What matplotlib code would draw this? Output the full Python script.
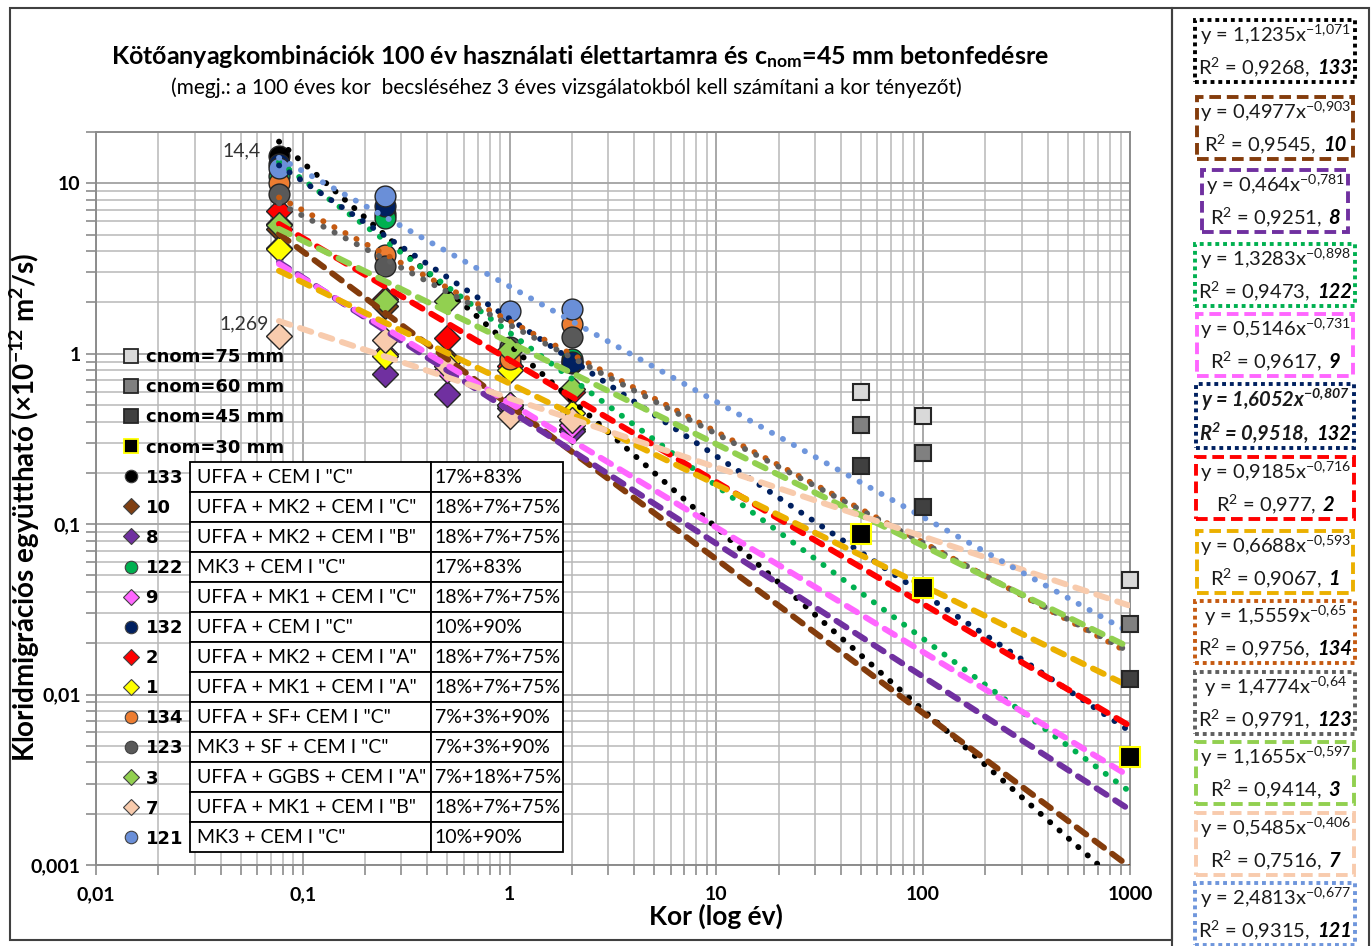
import numpy as np
import matplotlib.pyplot as plt
from matplotlib.lines import Line2D
from matplotlib.patches import Rectangle
from matplotlib.offsetbox import TextArea, VPacker, HPacker, AnnotationBbox

NARROW = ['Lato', 'DejaVu Sans']
plt.rcParams['font.family'] = NARROW
plt.rcParams['mathtext.default'] = 'regular'

nan = np.nan
# vizsgálati korok (év): 28 nap, 91 nap, 182 nap, 1 év, 2 év
age = [0.0767, 0.25, 0.5, 1, 2]

# kör jelölők
y133 = [14.4, 6.6, nan, 0.82, 0.88]
y122 = [11.0, 6.3, nan, 0.87, 0.93]
y132 = [13.0, 7.4, nan, 0.85, 0.90]
y134 = [10.0, 3.8, nan, 0.93, 1.5]
y123 = [8.7, 3.25, nan, 1.1, 1.26]
y121 = [12.3, 8.4, nan, 1.77, 1.84]
# rombusz jelölők
y10 = [5.4, 1.9, 0.93, 0.50, 0.36]
y8 = [5.8, 0.76, 0.58, 0.48, 0.35]
y9 = [4.2, 1.0, 0.80, 0.50, 0.38]
y2 = [6.9, 2.1, 1.24, 0.85, 0.60]
y1 = [4.1, 0.97, 0.90, 0.80, 0.45]
y3 = [5.7, 2.05, 2.05, 1.05, 0.62]
y7 = [1.269, 1.21, 0.85, 0.43, 0.41]

# cnom pontok
cnom_age = [50, 100, 1000]
cnom75 = [0.60, 0.43, 0.047]
cnom60 = [0.38, 0.26, 0.026]
cnom45 = [0.22, 0.126, 0.0123]
cnom30 = [0.088, 0.042, 0.0043]

ids = ['133', '10', '8', '122', '9', '132', '2', '1', '134', '123', '3', '7', '121']
values = [y133, y10, y8, y122, y9, y132, y2, y1, y134, y123, y3, y7, y121]
markers = ['o', 'D', 'D', 'o', 'D', 'o', 'D', 'D', 'o', 'o', 'D', 'D', 'o']
mcolors = ['#000000', '#7F3F12', '#7030A0', '#00B050', '#FF66FF', '#002060', '#FF0000',
           '#FFFF00', '#ED7D31', '#595959', '#92D050', '#F8CBAD', '#6A8FD8']
lcolors = ['#000000', '#843C0C', '#7030A0', '#00B050', '#FF66FF', '#002060', '#FF0000',
           '#EBB000', '#C55A11', '#5F5F5F', '#92D050', '#F8CBAD', '#6F96DC']
coef_a = [1.1235, 0.4977, 0.464, 1.3283, 0.5146, 1.6052, 0.9185, 0.6688, 1.5559, 1.4774, 1.1655, 0.5485, 2.4813]
coef_b = [-1.071, -0.903, -0.781, -0.898, -0.731, -0.807, -0.716, -0.593, -0.65, -0.64, -0.597, -0.406, -0.677]
r2 = [0.9268, 0.9545, 0.9251, 0.9473, 0.9617, 0.9518, 0.977, 0.9067, 0.9756, 0.9791, 0.9414, 0.7516, 0.9315]

mix = ['UFFA + CEM I "C"', 'UFFA + MK2 + CEM I "C"', 'UFFA + MK2 + CEM I "B"', 'MK3 + CEM I "C"',
       'UFFA + MK1 + CEM I "C"', 'UFFA + CEM I "C"', 'UFFA + MK2 + CEM I "A"', 'UFFA + MK1 + CEM I "A"',
       'UFFA + SF+ CEM I "C"', 'MK3 + SF + CEM I "C"', 'UFFA + GGBS + CEM I "A"', 'UFFA + MK1 + CEM I "B"',
       'MK3 + CEM I "C"']
ratio = ['17%+83%', '18%+7%+75%', '18%+7%+75%', '17%+83%', '18%+7%+75%', '10%+90%', '18%+7%+75%',
         '18%+7%+75%', '7%+3%+90%', '7%+3%+90%', '7%+18%+75%', '18%+7%+75%', '10%+90%']

W, H = 1371, 946
fig = plt.figure(figsize=(W / 100, H / 100), dpi=100)
ax = fig.add_axes([96 / W, 1 - 865 / H, (1130 - 96) / W, (865 - 132) / H])
ax.set_xscale('log')
ax.set_yscale('log')
ax.set_xlim(0.01, 1000)
ax.set_ylim(0.001, 20)

ax.grid(True, which='major', color='#A8A8A8', lw=1.4, zorder=0)
ax.grid(True, which='minor', color='#B8B8B8', lw=1.1, zorder=0)
ax.set_axisbelow(True)
for s in ax.spines.values():
    s.set_color('#8C8C8C')
    s.set_linewidth(1.4)

xt = [0.01, 0.1, 1, 10, 100, 1000]
ax.set_xticks(xt, ['0,01', '0,1', '1', '10', '100', '1000'])
yt = [0.001, 0.01, 0.1, 1, 10]
ax.set_yticks(yt, ['0,001', '0,01', '0,1', '1', '10'])
ax.tick_params(which='both', direction='out', color='#8C8C8C', length=7, width=1.2, labelsize=14)
ax.tick_params(axis='x', pad=8)
ax.tick_params(axis='y', pad=4)
for lab in ax.get_xticklabels() + ax.get_yticklabels():
    lab.set_fontweight('bold')

# trendvonalak
xfit = np.logspace(np.log10(age[0]), 3, 400)
for i in range(len(ids)):
    yfit = coef_a[i] * xfit ** coef_b[i]
    if markers[i] == 'o':
        ax.plot(xfit, yfit, color=lcolors[i], lw=4.2, ls=(0, (0.05, 2.1)),
                dash_capstyle='round', zorder=5)
    else:
        ax.plot(xfit, yfit, color=lcolors[i], lw=4.3, ls=(0, (2.0, 1.7)),
                dash_capstyle='round', zorder=5)

# mért pontok
for i in range(len(ids)):
    ms = 15 if markers[i] == 'o' else 13.5
    ax.plot(age, values[i], ls='none', marker=markers[i], ms=ms, mfc=mcolors[i],
            mec='#262626', mew=1.0, zorder=4)

ax.plot(cnom_age, cnom75, ls='none', marker='s', ms=11, mfc='#D9D9D9', mec='#262626', mew=1.5, zorder=6, clip_on=False)
ax.plot(cnom_age, cnom60, ls='none', marker='s', ms=11, mfc='#808080', mec='#262626', mew=1.5, zorder=6, clip_on=False)
ax.plot(cnom_age, cnom45, ls='none', marker='s', ms=11, mfc='#404040', mec='#262626', mew=1.5, zorder=6, clip_on=False)
ax.plot(cnom_age, cnom30, ls='none', marker='s', ms=14.5, mfc='#000000', mec='#FFFF00', mew=1.5, zorder=6, clip_on=False)

ax.annotate('14,4', xy=(age[0], y133[0]), xytext=(-13, 4), textcoords='offset points',
            ha='right', va='center', fontsize=14, color='#333333', zorder=7)
ax.annotate('1,269', xy=(age[0], y7[0]), xytext=(-7, 9), textcoords='offset points',
            ha='right', va='center', fontsize=14, color='#333333', zorder=7)

# jelmagyarázat
handles = [Line2D([], [], ls='none', marker='s', ms=10, mfc=c, mec=e, mew=1.3)
           for c, e in [('#D9D9D9', '#262626'), ('#808080', '#262626'),
                        ('#404040', '#262626'), ('#000000', '#FFFF00')]]
labels = ['cnom=75 mm', 'cnom=60 mm', 'cnom=45 mm', 'cnom=30 mm']
for i in range(len(ids)):
    handles.append(Line2D([], [], ls='none', marker=markers[i], ms=9 if markers[i] == 'o' else 8,
                          mfc=mcolors[i], mec='#404040', mew=0.8))
    labels.append(ids[i])
leg = ax.legend(handles, labels, loc='upper left', bbox_to_anchor=(0.027, 0.705), frameon=False,
                borderaxespad=0, borderpad=0, handlelength=0.8, handletextpad=0.4,
                labelspacing=0.67, prop={'family': 'DejaVu Sans', 'weight': 'bold', 'size': 13})
leg.set_zorder(8)

# táblázat
tbl = ax.table(cellText=[[m, r] for m, r in zip(mix, ratio)], cellLoc='left',
               colWidths=[241, 132], bbox=[(190 - 96) / 1034, (865 - 852) / 733,
                                           (563 - 190) / 1034, (852 - 462) / 733])
tbl.auto_set_font_size(False)
tbl.set_zorder(9)
for cell in tbl.get_celld().values():
    cell.PAD = 0.03
    cell.set_edgecolor('#000000')
    cell.set_linewidth(1.3)
    cell.set_facecolor('white')
    cell.get_text().set_fontsize(14)
    cell.get_text().set_fontfamily(NARROW)

# cím
fig.text(580 / W, 1 - 57 / H, r'Kötőanyagkombinációk 100 év használati élettartamra és c$_{nom}$=45 mm betonfedésre',
         ha='center', va='center', fontsize=18, fontweight='bold')
fig.text(566 / W, 1 - 88 / H, '(megj.: a 100 éves kor  becsléséhez 3 éves vizsgálatokból kell számítani a kor tényezőt)',
         ha='center', va='center', fontsize=15)
fig.text(25 / W, 1 - 507 / H, r'Kloridmigrációs együttható (×10$^{-12}$ m$^{2}$/s)', rotation=90,
         ha='center', va='center', fontsize=20, fontweight='bold')
fig.text(716 / W, 1 - 916 / H, 'Kor (log év)', ha='center', va='center', fontsize=19, fontweight='bold')

# keretek
fig.add_artist(Rectangle((10 / W, 1 - 940 / H), 1162 / W, 932 / H, transform=fig.transFigure,
                         fill=False, ec='#404040', lw=1.5))
fig.add_artist(Rectangle((1172 / W, -0.01), 197 / W, 1.01 - 8 / H, transform=fig.transFigure,
                         fill=False, ec='#404040', lw=1.5))

# egyenlet dobozok
box_y = [51, 128, 201, 275, 345, 416, 488, 562, 632, 703, 773, 844, 914]
for i in range(len(ids)):
    tp = dict(fontsize=14.5, family=NARROW, color='#1A1A1A')
    if ids[i] == '132':
        tp.update(fontweight='bold', fontstyle='italic')
    a_s = f'{coef_a[i]}'.replace('.', ',')
    b_s = f'{coef_b[i]}'.replace('.', '{,}')
    r_s = f'{r2[i]}'.replace('.', ',')
    line1 = TextArea(f'y = {a_s}x$^{{{b_s}}}$', textprops=tp)
    line2 = HPacker(children=[TextArea(f'R$^2$ = {r_s},', textprops=tp),
                              TextArea(ids[i], textprops=dict(fontsize=14.5, family=NARROW, color='#000000',
                                                              fontweight='bold', fontstyle='italic'))],
                    align='baseline', pad=0, sep=5)
    content = VPacker(children=[line1, line2], align='center', pad=0, sep=6)
    ls = (0, (1, 1)) if markers[i] == 'o' else (0, (3, 1.5))
    ab = AnnotationBbox(content, (1275, H - box_y[i]), xycoords='figure pixels', box_alignment=(0.5, 0.5),
                        frameon=True, pad=0.22,
                        bboxprops=dict(edgecolor=lcolors[i], linestyle=ls, linewidth=2.8, facecolor='white'))
    fig.add_artist(ab)

fig.savefig('out.png', dpi=100)
